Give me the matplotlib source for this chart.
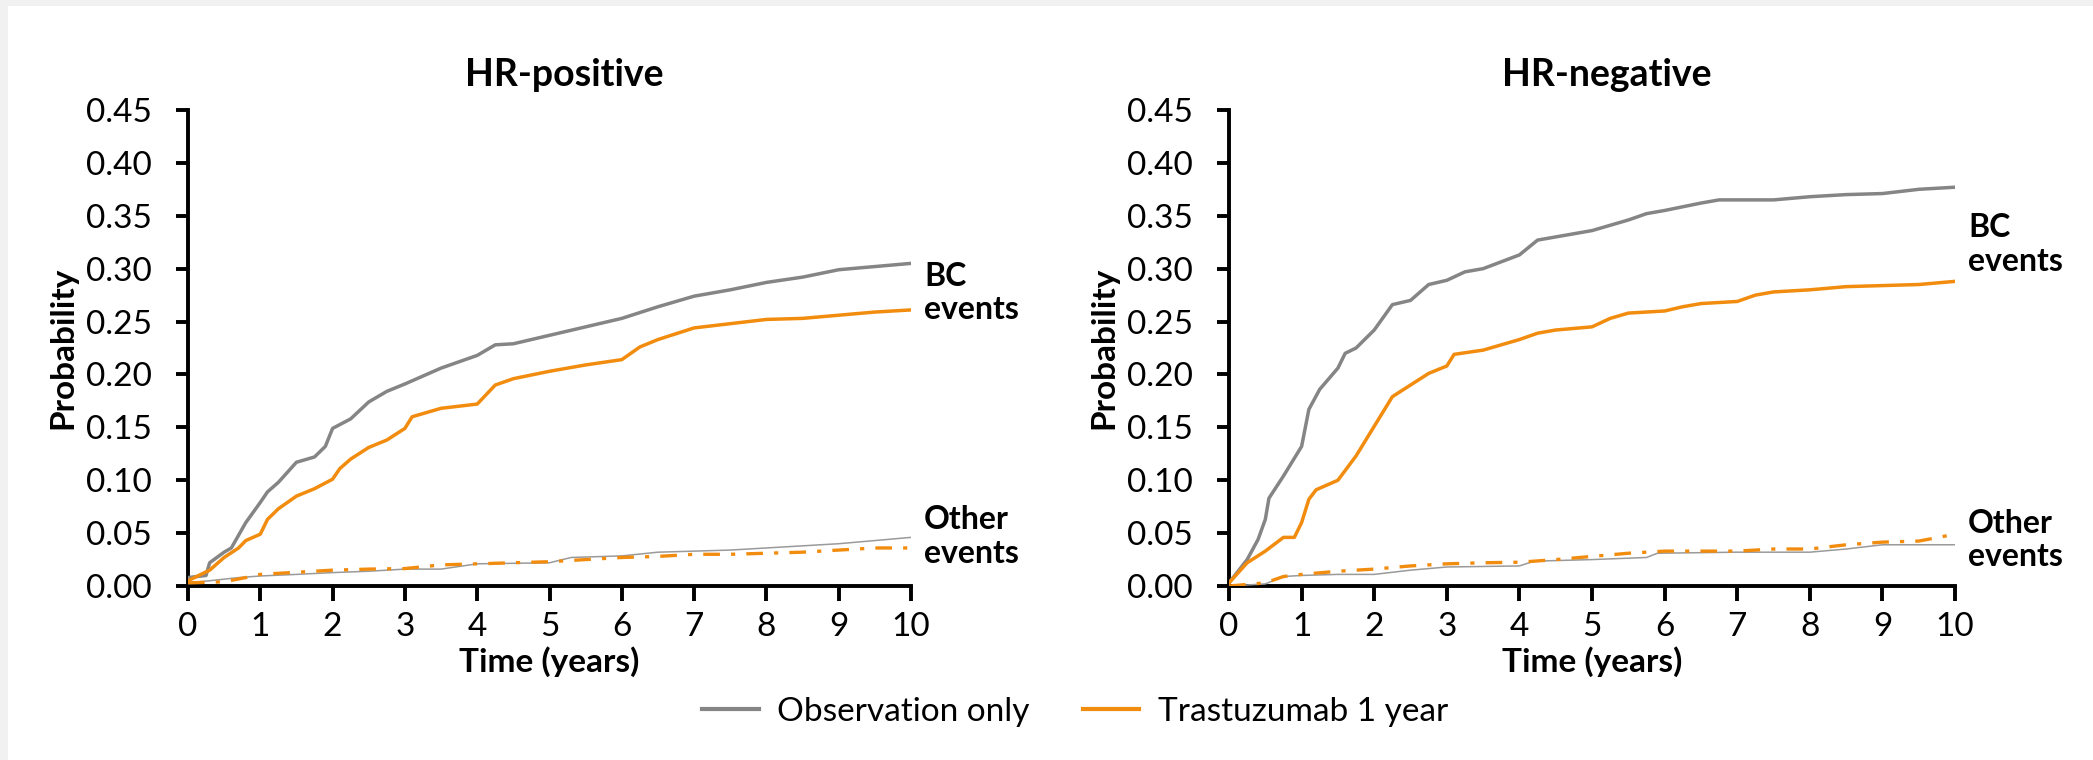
import matplotlib.pyplot as plt
from matplotlib.lines import Line2D
from matplotlib.patches import Rectangle

plt.rcParams['font.family'] = ['Lato', 'DejaVu Sans']
plt.rcParams['lines.scale_dashes'] = False

GREY = '#858585'
GREY_THIN = '#9a9a9a'
ORANGE = '#f28c0f'

# HR-positive: cumulative incidence curves
pos_obs_bc_t = [0, 0.25, 0.3, 0.5, 0.6, 0.8, 1.0, 1.1, 1.25, 1.5, 1.75, 1.9, 2.0, 2.25, 2.5, 2.75, 3.0,
                3.5, 4.0, 4.25, 4.5, 5.0, 5.5, 6.0, 6.5, 7.0, 7.5, 8.0, 8.5, 9.0, 9.5, 10]
pos_obs_bc = [0.008, 0.010, 0.022, 0.032, 0.036, 0.060, 0.079, 0.089, 0.098, 0.117, 0.122, 0.132, 0.149,
              0.158, 0.174, 0.184, 0.191, 0.206, 0.218, 0.228, 0.229, 0.237, 0.245, 0.253, 0.264,
              0.274, 0.280, 0.287, 0.292, 0.299, 0.302, 0.305]
pos_tra_bc_t = [0, 0.3, 0.5, 0.7, 0.8, 1.0, 1.1, 1.25, 1.5, 1.75, 2.0, 2.1, 2.25, 2.5, 2.75, 3.0, 3.1,
                3.5, 4.0, 4.25, 4.5, 5.0, 5.5, 6.0, 6.25, 6.5, 7.0, 7.5, 8.0, 8.5, 9.0, 9.5, 10]
pos_tra_bc = [0.005, 0.015, 0.027, 0.036, 0.043, 0.049, 0.063, 0.073, 0.085, 0.092, 0.101, 0.111, 0.120,
              0.131, 0.138, 0.149, 0.160, 0.168, 0.172, 0.190, 0.196, 0.203, 0.209, 0.214, 0.226,
              0.233, 0.244, 0.248, 0.252, 0.253, 0.256, 0.259, 0.261]
pos_obs_oth_t = [0, 0.3, 0.7, 1.0, 1.5, 2.0, 2.5, 3.0, 3.5, 4.0, 4.5, 5.0, 5.3, 6.0, 6.5, 7.0, 7.5, 8.0,
                 8.5, 9.0, 9.5, 10]
pos_obs_oth = [0.003, 0.005, 0.008, 0.0095, 0.011, 0.0127, 0.014, 0.016, 0.016, 0.021, 0.0215, 0.022,
               0.027, 0.0285, 0.032, 0.033, 0.034, 0.036, 0.038, 0.040, 0.043, 0.046]
pos_tra_oth_t = [0, 0.5, 0.8, 1.0, 1.5, 2.0, 2.5, 3.0, 3.5, 4.0, 4.5, 5.0, 5.5, 6.0, 6.5, 7.0, 7.5, 8.0,
                 8.5, 9.0, 9.5, 10]
pos_tra_oth = [0.003, 0.004, 0.008, 0.011, 0.013, 0.015, 0.016, 0.0165, 0.020, 0.021, 0.022, 0.023,
               0.025, 0.027, 0.028, 0.030, 0.030, 0.031, 0.032, 0.034, 0.036, 0.036]

# HR-negative
neg_obs_bc_t = [0, 0.25, 0.4, 0.5, 0.55, 0.75, 1.0, 1.1, 1.25, 1.5, 1.6, 1.75, 2.0, 2.25, 2.5, 2.75,
                3.0, 3.25, 3.5, 4.0, 4.25, 4.5, 5.0, 5.5, 5.75, 6.0, 6.5, 6.75, 7.0, 7.5, 8.0, 8.5,
                9.0, 9.5, 10]
neg_obs_bc = [0.003, 0.025, 0.044, 0.063, 0.083, 0.104, 0.132, 0.167, 0.186, 0.206, 0.220, 0.225,
              0.242, 0.266, 0.270, 0.285, 0.289, 0.297, 0.300, 0.313, 0.327, 0.330, 0.336, 0.346,
              0.352, 0.355, 0.362, 0.365, 0.365, 0.365, 0.368, 0.370, 0.371, 0.375, 0.377]
neg_tra_bc_t = [0, 0.25, 0.5, 0.75, 0.9, 1.0, 1.1, 1.2, 1.5, 1.75, 2.0, 2.25, 2.5, 2.75, 3.0, 3.1, 3.5,
                4.0, 4.25, 4.5, 5.0, 5.25, 5.5, 6.0, 6.25, 6.5, 7.0, 7.25, 7.5, 8.0, 8.5, 9.0, 9.5, 10]
neg_tra_bc = [0.003, 0.022, 0.033, 0.046, 0.046, 0.060, 0.082, 0.091, 0.100, 0.123, 0.151, 0.179,
              0.190, 0.201, 0.208, 0.219, 0.223, 0.233, 0.239, 0.242, 0.245, 0.253, 0.258, 0.260,
              0.264, 0.267, 0.269, 0.275, 0.278, 0.280, 0.283, 0.284, 0.285, 0.288]
neg_obs_oth_t = [0, 0.5, 0.75, 1.0, 1.5, 2.0, 2.5, 3.0, 4.0, 4.2, 5.0, 5.75, 5.9, 7.0, 8.0, 8.5, 9.0, 10]
neg_obs_oth = [0.0, 0.002, 0.009, 0.010, 0.011, 0.011, 0.015, 0.018, 0.019, 0.0235, 0.025, 0.027,
               0.031, 0.032, 0.032, 0.035, 0.039, 0.039]
neg_tra_oth_t = [0, 0.5, 0.75, 1.0, 1.5, 2.0, 2.5, 3.0, 3.5, 4.0, 4.5, 5.0, 5.5, 6.0, 6.5, 7.0, 7.5,
                 8.0, 8.5, 9.0, 9.5, 10]
neg_tra_oth = [0.0, 0.003, 0.009, 0.011, 0.014, 0.016, 0.019, 0.021, 0.022, 0.0225, 0.025, 0.028,
               0.031, 0.033, 0.033, 0.033, 0.035, 0.035, 0.039, 0.0415, 0.0425, 0.049]

x_ticks = list(range(0, 11))
y_ticks = [0.00, 0.05, 0.10, 0.15, 0.20, 0.25, 0.30, 0.35, 0.40, 0.45]
y_ticklabels = ['%.2f' % v for v in y_ticks]


def draw_panel(ax, title, obs_bc, tra_bc, obs_oth, tra_oth, bc_lab_y, oth_lab_y):
    ax.plot(obs_oth[0], obs_oth[1], color=GREY_THIN, lw=1.1, zorder=3)
    ax.plot(tra_oth[0], tra_oth[1], color=ORANGE, lw=2.4, dashes=(12, 8, 3, 8), zorder=3)
    ax.plot(obs_bc[0], obs_bc[1], color=GREY, lw=2.5, zorder=4)
    ax.plot(tra_bc[0], tra_bc[1], color=ORANGE, lw=2.5, zorder=4)

    ax.set_xlim(0, 10)
    ax.set_ylim(0, 0.45)
    ax.set_xticks(x_ticks)
    ax.set_yticks(y_ticks)
    ax.set_yticklabels(y_ticklabels)
    for s in ['top', 'right']:
        ax.spines[s].set_visible(False)
    for s in ['left', 'bottom']:
        ax.spines[s].set_linewidth(2.8)
    ax.tick_params(axis='both', width=2.8, labelsize=24, direction='out')
    ax.tick_params(axis='y', length=9, pad=17)
    ax.tick_params(axis='x', length=11, pad=8)

    ax.set_title(title, fontsize=27, fontweight='bold', pad=17, x=0.52)
    ax.set_xlabel('Time (years)', fontsize=24, fontweight='bold', labelpad=3)
    ax.set_ylabel('Probability', fontsize=24, fontweight='bold', labelpad=6)

    ax.text(10.18, bc_lab_y, 'BC\nevents', fontsize=23, fontweight='bold',
            va='center', ha='left', linespacing=1.2, clip_on=False)
    ax.text(10.18, oth_lab_y, 'Other\nevents', fontsize=23, fontweight='bold',
            va='center', ha='left', linespacing=1.2, clip_on=False)


fig = plt.figure(figsize=(20.93, 7.6), dpi=100, facecolor='#f1f1f1')
fig.patches.append(Rectangle((8 / 2093, 0), 1, 1 - 6 / 760, transform=fig.transFigure,
                             facecolor='white', edgecolor='none', zorder=-1))

ax1 = fig.add_axes([0.0898, 0.2289, 0.3455, 0.6264])
ax2 = fig.add_axes([0.5872, 0.2289, 0.3469, 0.6264])
for ax in (ax1, ax2):
    ax.set_facecolor('none')

draw_panel(ax1, 'HR-positive',
           (pos_obs_bc_t, pos_obs_bc), (pos_tra_bc_t, pos_tra_bc),
           (pos_obs_oth_t, pos_obs_oth), (pos_tra_oth_t, pos_tra_oth),
           0.277, 0.047)
draw_panel(ax2, 'HR-negative',
           (neg_obs_bc_t, neg_obs_bc), (neg_tra_bc_t, neg_tra_bc),
           (neg_obs_oth_t, neg_obs_oth), (neg_tra_oth_t, neg_tra_oth),
           0.323, 0.0435)

handles = [Line2D([], [], color=GREY, lw=3), Line2D([], [], color=ORANGE, lw=3)]
fig.legend(handles, ['Observation only', 'Trastuzumab 1 year'], loc='center',
           bbox_to_anchor=(1075 / 2093, 1 - 712 / 760), ncol=2, frameon=False,
           fontsize=24, handlelength=1.7, handletextpad=0.55, columnspacing=1.6)

fig.savefig('out.png', dpi=100, facecolor=fig.get_facecolor())
